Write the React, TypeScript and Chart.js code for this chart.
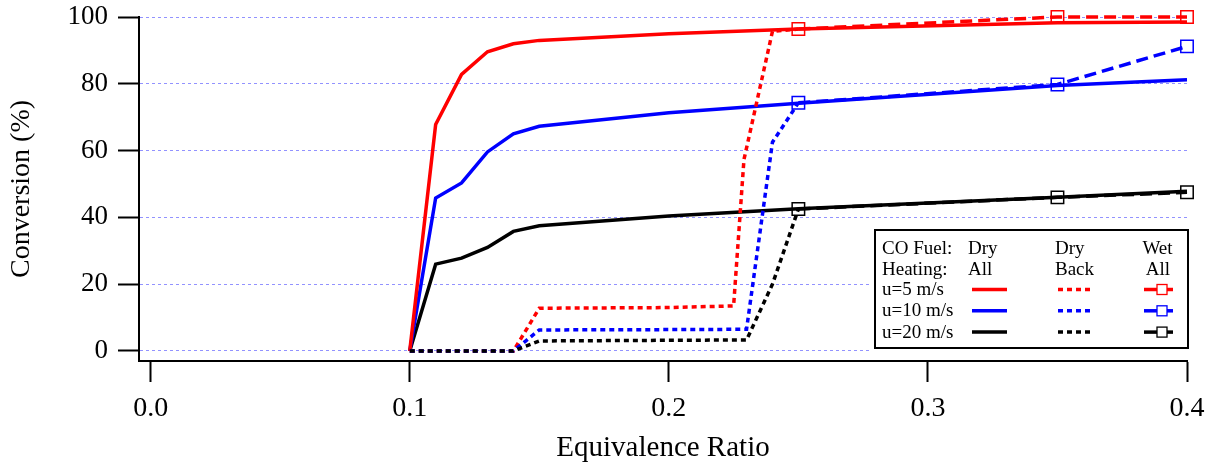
import React, { useEffect, useRef } from "react";
import { Chart, registerables } from "chart.js";

Chart.register(...registerables);

// ---- data ----
const xDryAll = [0.1, 0.11, 0.12, 0.13, 0.14, 0.15, 0.2, 0.25, 0.35, 0.4];
const dryAll5 = [0, 67.8, 82.8, 89.6, 92, 93, 95, 96.4, 98.3, 98.5];
const dryAll10 = [0, 45.8, 50.3, 59.6, 65, 67.3, 71.3, 74.2, 79.5, 81.2];
const dryAll20 = [0, 26, 27.8, 31, 35.8, 37.5, 40.4, 42.6, 46, 47.8];

const xDryBack5 = [0.1, 0.14, 0.15, 0.2, 0.225, 0.229, 0.24, 0.25];
const dryBack5 = [0, 0, 12.8, 13, 13.5, 57.3, 95.7, 96.4];
const xDryBack = [0.1, 0.14, 0.15, 0.2, 0.23, 0.24, 0.25];
const dryBack10 = [0, 0, 6.3, 6.4, 6.5, 62.5, 74.3];
const dryBack20 = [0, 0, 3.0, 3.2, 3.3, 20, 42.5];

const xWetAll = [0.25, 0.35, 0.4];
const wetAll5 = [96.4, 100, 100];
const wetAll10 = [74.3, 79.8, 91.2];
const wetAll20 = [42.5, 46, 47.5];

const xTicks = [0, 0.1, 0.2, 0.3, 0.4];
const yTicks = [0, 20, 40, 60, 80, 100];

const legendRows = ["u=5 m/s", "u=10 m/s", "u=20 m/s"];
const seriesColors = ["#ff0000", "#0000ff", "#000000"];

const FONT = '"Liberation Serif", "Times New Roman", serif';

const pts = (xs: number[], ys: number[]) => xs.map((x, i) => ({ x, y: ys[i] }));

const legendPlugin = {
  id: "customLegend",
  afterDraw(chart: any) {
    const ctx = chart.ctx as CanvasRenderingContext2D;
    ctx.save();
    ctx.fillStyle = "#ffffff";
    ctx.fillRect(872, 226, 319, 127);
    ctx.strokeStyle = "#000";
    ctx.lineWidth = 2;
    ctx.strokeRect(875, 230, 313, 118);
    ctx.fillStyle = "#000";
    ctx.font = `19px ${FONT}`;
    ctx.textBaseline = "alphabetic";
    ctx.textAlign = "left";
    ctx.fillText("CO Fuel:", 882, 254);
    ctx.fillText("Heating:", 882, 274.5);
    ctx.fillText("Dry", 968, 254);
    ctx.fillText("All", 968, 274.5);
    ctx.fillText("Dry", 1055, 254);
    ctx.fillText("Back", 1055, 274.5);
    ctx.textAlign = "center";
    ctx.fillText("Wet", 1157.5, 254);
    ctx.fillText("All", 1158, 274.5);
    ctx.textAlign = "left";
    legendRows.forEach((label, i) => {
      const base = 295 + i * 21.3;
      const ly = base - 5.5;
      const c = seriesColors[i];
      ctx.fillStyle = "#000";
      ctx.fillText(label, 882, base);
      ctx.strokeStyle = c;
      ctx.lineWidth = 3.5;
      ctx.setLineDash([]);
      ctx.beginPath();
      ctx.moveTo(972, ly);
      ctx.lineTo(1007, ly);
      ctx.stroke();
      ctx.setLineDash([5, 4]);
      ctx.beginPath();
      ctx.moveTo(1058, ly);
      ctx.lineTo(1093, ly);
      ctx.stroke();
      ctx.setLineDash([]);
      ctx.beginPath();
      ctx.moveTo(1144, ly);
      ctx.lineTo(1173, ly);
      ctx.stroke();
      ctx.fillStyle = "#fff";
      ctx.fillRect(1157, ly - 5, 10, 10);
      ctx.lineWidth = 1.3;
      ctx.strokeRect(1157, ly - 5, 10, 10);
    });
    ctx.restore();
  },
};

export default function App() {
  const ref = useRef<HTMLCanvasElement | null>(null);
  useEffect(() => {
    if (!ref.current) return;
    const solid = (data: any[], color: string) => ({
      data,
      borderColor: color,
      backgroundColor: color,
      borderWidth: 3.5,
      showLine: true,
      pointRadius: 0,
      pointHoverRadius: 0,
      tension: 0,
      clip: false,
    });
    const dotted = (data: any[], color: string) => ({
      ...solid(data, color),
      borderDash: [5, 4],
    });
    const wet = (data: any[], color: string) => ({
      data,
      borderColor: color,
      backgroundColor: color,
      borderWidth: 3.5,
      borderDash: [12, 6],
      showLine: true,
      tension: 0,
      clip: false,
      pointStyle: "rect",
      pointRadius: 8.8,
      pointBorderWidth: 1.5,
      pointBorderColor: color,
      pointBackgroundColor: "rgba(0,0,0,0)",
    });
    const zeroPad = (s: any) => {
      s.paddingTop = 0;
      s.paddingBottom = 0;
      s.paddingLeft = 0;
      s.paddingRight = 0;
    };
    const chart = new Chart(ref.current, {
      type: "scatter",
      data: {
        datasets: [
          wet(pts(xWetAll, wetAll5), "#ff0000"),
          wet(pts(xWetAll, wetAll10), "#0000ff"),
          wet(pts(xWetAll, wetAll20), "#000000"),
          dotted(pts(xDryBack, dryBack20), "#000000"),
          dotted(pts(xDryBack, dryBack10), "#0000ff"),
          dotted(pts(xDryBack5, dryBack5), "#ff0000"),
          solid(pts(xDryAll, dryAll5), "#ff0000"),
          solid(pts(xDryAll, dryAll10), "#0000ff"),
          solid(pts(xDryAll, dryAll20), "#000000"),
        ] as any,
      },
      options: {
        animation: false,
        responsive: false,
        maintainAspectRatio: false,
        layout: { autoPadding: false, padding: { left: 0, right: 28, top: 17, bottom: 0 } },
        plugins: {
          legend: { display: false },
          tooltip: { enabled: false },
        },
        scales: {
          x: {
            type: "linear",
            min: -0.0045,
            max: 0.4,
            afterBuildTicks: (s: any) => {
              s.ticks = xTicks.map((v) => ({ value: v }));
            },
            afterFit: (s: any) => {
              s.height = 102;
              zeroPad(s);
            },
            ticks: {
              color: "#000",
              padding: 13,
              font: { family: FONT, size: 28, lineHeight: 1 },
              callback: (v: any) => Number(v).toFixed(1),
              maxRotation: 0,
              autoSkip: false,
            },
            grid: {
              drawOnChartArea: false,
              drawTicks: true,
              tickLength: 21,
              tickColor: "#000",
              tickWidth: 2,
            },
            border: { display: true, color: "#000", width: 2 },
            title: {
              display: true,
              text: "Equivalence Ratio",
              color: "#000",
              font: { family: FONT, size: 29, lineHeight: 1 },
              padding: { top: 0, bottom: 0 },
            },
          },
          y: {
            type: "linear",
            min: -3,
            max: 100,
            afterBuildTicks: (s: any) => {
              s.ticks = yTicks.map((v) => ({ value: v }));
            },
            afterFit: (s: any) => {
              s.width = 139;
              zeroPad(s);
            },
            ticks: {
              color: "#000",
              padding: 10,
              font: { family: FONT, size: 27, lineHeight: 1 },
              autoSkip: false,
            },
            grid: {
              color: "rgba(100,100,255,0.7)",
              lineWidth: 1,
              drawTicks: true,
              tickLength: 21,
              tickColor: "#000",
              tickWidth: 2,
            },
            border: { display: true, color: "#000", width: 2, dash: [3, 3] },
            title: {
              display: true,
              text: "Conversion (%)",
              color: "#000",
              font: { family: FONT, size: 28, lineHeight: 1 },
              padding: { top: 8, bottom: 0 },
            },
          },
        },
      },
      plugins: [legendPlugin],
    });
    return () => chart.destroy();
  }, []);
  return (
    <div style={{ position: "absolute", left: 0, top: 0, width: 1215, height: 463, background: "#fff" }}>
      <canvas ref={ref} width={1215} height={463} style={{ width: 1215, height: 463, display: "block" }} />
    </div>
  );
}
